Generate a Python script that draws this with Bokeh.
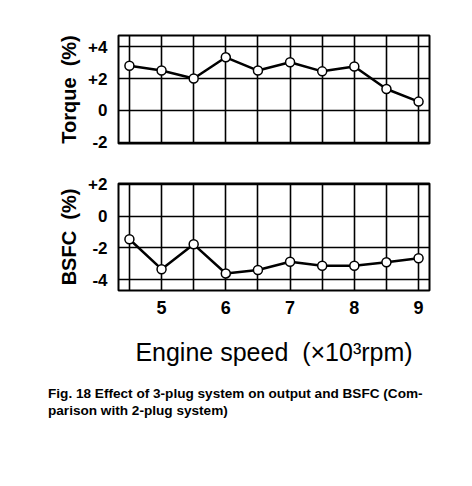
from bokeh.plotting import figure
from bokeh.models import FixedTicker, Range1d, Div
from bokeh.layouts import column
from bokeh.embed import file_html
from bokeh.resources import INLINE

# ---- data ----
speed = [4.5, 5.0, 5.5, 6.0, 6.5, 7.0, 7.5, 8.0, 8.5, 9.0]
torque = [2.8, 2.5, 2.0, 3.33, 2.5, 3.02, 2.45, 2.75, 1.34, 0.55]
bsfc = [-1.45, -3.33, -1.77, -3.6, -3.38, -2.86, -3.12, -3.12, -2.9, -2.65]
x_ticks = [5, 6, 7, 8, 9]
x_grid = [4.5, 5.0, 5.5, 6.0, 6.5, 7.0, 7.5, 8.0, 8.5, 9.0]
torque_ticks = [4, 2, 0, -2]
torque_labels = ["+4", "+2", "0", "-2"]
bsfc_ticks = [2, 0, -2, -4]
bsfc_labels = ["+2", "0", "-2", "-4"]

FONT = "Liberation Sans"
NB = "\u00a0"


def style(p, yticks, ylabels, ylabel):
    p.outline_line_color = "black"
    p.outline_line_width = 2
    p.xgrid.ticker = FixedTicker(ticks=x_grid)
    p.ygrid.ticker = FixedTicker(ticks=yticks)
    for g in (p.xgrid, p.ygrid):
        g.grid_line_color = "black"
        g.grid_line_width = 1.6
        g.grid_line_alpha = 1.0
    ya = p.yaxis[0]
    ya.ticker = FixedTicker(ticks=yticks)
    ya.major_label_overrides = {t: l for t, l in zip(yticks, ylabels)}
    ya.axis_line_color = None
    ya.major_tick_line_color = None
    ya.minor_tick_line_color = None
    ya.major_label_text_font = FONT
    ya.major_label_text_font_style = "bold"
    ya.major_label_text_font_size = "17px"
    ya.major_label_text_color = "black"
    ya.major_label_standoff = 5
    ya.axis_label = ylabel
    ya.axis_label_text_font = FONT
    ya.axis_label_text_font_style = "bold"
    ya.axis_label_text_font_size = "20px"
    ya.axis_label_text_color = "black"
    ya.axis_label_standoff = 5


p1 = figure(width=464, height=160, output_backend="svg", toolbar_location=None,
            x_range=Range1d(4.33, 9.17), y_range=Range1d(-2.08, 4.7),
            x_axis_location=None,
            min_border_left=118, min_border_right=35, min_border_top=35, min_border_bottom=17)
style(p1, torque_ticks, torque_labels, "Torque" + NB + NB + "(%)")
p1.line(speed, torque, line_color="black", line_width=2.5)
p1.scatter(speed, torque, size=9, fill_color="white", line_color="black", line_width=1.5)

p2 = figure(width=464, height=212, output_backend="svg", toolbar_location=None,
            x_range=Range1d(4.33, 9.17), y_range=Range1d(-4.67, 2.05),
            min_border_left=118, min_border_right=35, min_border_top=23, min_border_bottom=82)
style(p2, bsfc_ticks, bsfc_labels, "BSFC" + NB + NB + "(%)")
xa = p2.xaxis[0]
xa.ticker = FixedTicker(ticks=x_ticks)
xa.axis_line_color = None
xa.major_tick_line_color = None
xa.minor_tick_line_color = None
xa.major_label_text_font = FONT
xa.major_label_text_font_style = "bold"
xa.major_label_text_font_size = "18px"
xa.major_label_text_color = "black"
xa.major_label_standoff = 4
xa.axis_label = "Engine speed" + NB + NB + "(×10³rpm)"
xa.axis_label_text_font = FONT
xa.axis_label_text_font_style = "normal"
xa.axis_label_text_font_size = "25px"
xa.axis_label_text_color = "black"
xa.axis_label_standoff = 21
p2.line(speed, bsfc, line_color="black", line_width=2.5)
p2.scatter(speed, bsfc, size=9, fill_color="white", line_color="black", line_width=1.5)

caption = Div(
    text="Fig. 18 Effect of 3-plug system on output and BSFC (Com-<br>parison with 2-plug system)",
    width=430, height=50, margin=(13, 0, 0, 48),
    styles={"font-family": FONT, "font-weight": "bold", "font-size": "13.6px",
            "line-height": "17px", "color": "black"})

layout = column(p1, p2, caption, spacing=0)
open("out.html", "w").write(file_html(layout, INLINE))
